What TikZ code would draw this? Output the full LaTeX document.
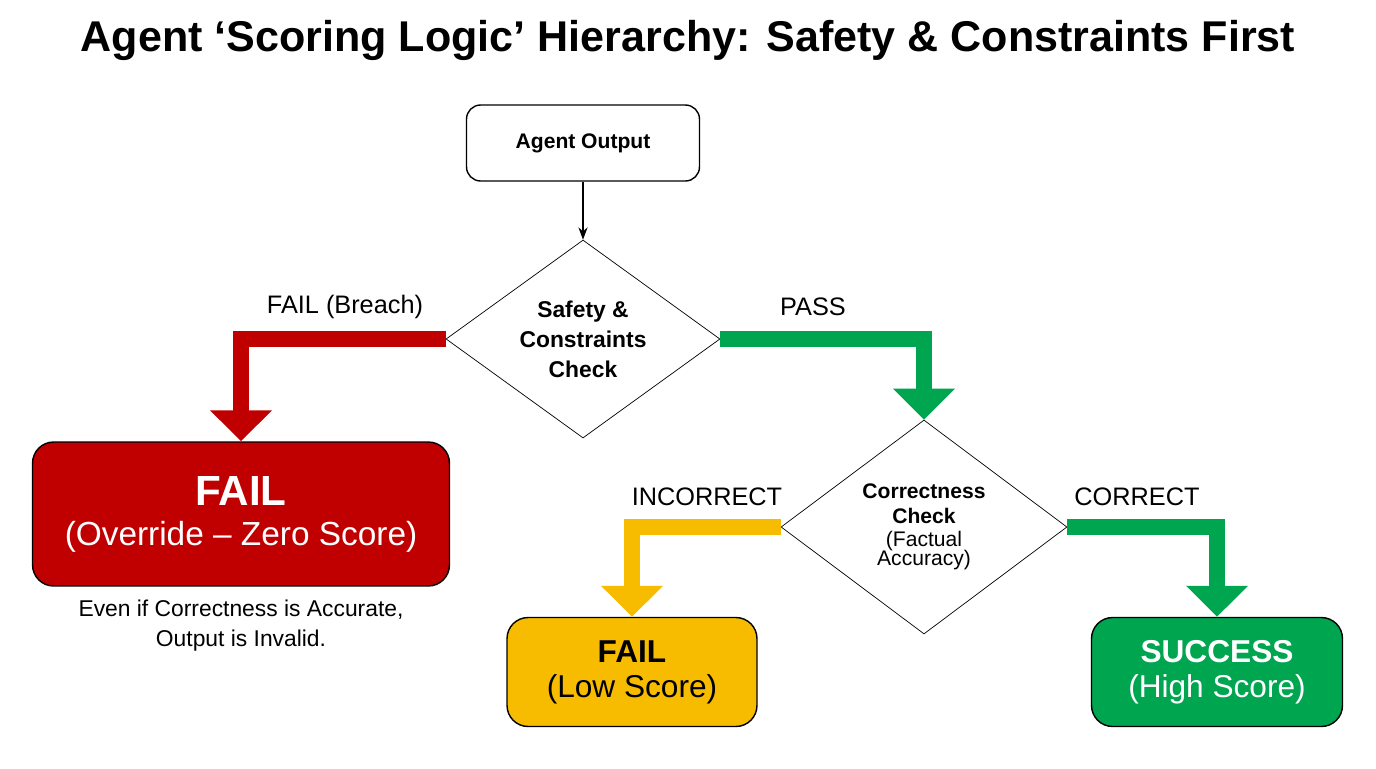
\documentclass[tikz,border=0pt]{standalone}
\usepackage{fontspec}
\setmainfont{Liberation Sans}
\usetikzlibrary{shapes.geometric,arrows.meta}
\definecolor{fail-red}{HTML}{C00000}
\definecolor{pass-green}{HTML}{00A550}
\definecolor{warn-yellow}{HTML}{F7BC00}

\begin{document}
\begin{tikzpicture}[x=0.02cm, y=-0.02cm,
    check/.style={draw, diamond, aspect=1.4, align=center, font=\bfseries\large},
    result/.style={draw, rounded corners=12pt, align=center, line width=0.8pt},
    fat/.style={line width=0.32cm, -{Triangle[width=1.2cm,length=0.62cm]}},
    lbl/.style={font=\Large}]
      \useasboundingbox (0,0) rectangle (1376,768);
      \node[font=\bfseries\fontsize{24.5}{30}\selectfont] (title) at (688,40) {Agent ‘Scoring Logic’ Hierarchy: Safety \& Constraints First};

      \node[result, rounded corners=8pt, minimum width=4.66cm, minimum height=1.52cm, font=\bfseries\large] (out) at (583,143) {Agent Output};
      \node[check, minimum width=5.48cm, minimum height=3.96cm, font=\bfseries\fontsize{13}{17}\selectfont] (safe) at (583,339) {Safety \&\\Constraints\\Check};
      \node[check, minimum width=5.72cm, minimum height=4.28cm] (corr) at (924,527) {Correctness\\Check\\[-1pt]{\normalfont\large (Factual}\\[-3pt]{\normalfont\large Accuracy)}};

      \node[result, fill=fail-red, text=white, minimum width=8.34cm, minimum height=2.88cm] (zero) at (241,514) {{\bfseries\fontsize{24}{30}\selectfont FAIL}\\[8pt]{\fontsize{19}{24}\selectfont (Override -- Zero Score)}};
      \node[result, fill=warn-yellow, minimum width=5cm, minimum height=2.18cm] (low) at (632,672) {{\bfseries\fontsize{18}{22}\selectfont FAIL}\\[6pt]{\fontsize{18}{22}\selectfont (Low Score)}};
      \node[result, fill=pass-green, text=white, minimum width=5.02cm, minimum height=2.18cm] (high) at (1217,672) {{\bfseries\fontsize{18}{22}\selectfont SUCCESS}\\[6pt]{\fontsize{18}{22}\selectfont (High Score)}};
      \node[align=center, font=\fontsize{13}{17}\selectfont] (note) at (241,626) {Even if Correctness is Accurate,\\Output is Invalid.};

      \draw[-{Stealth[length=7pt]}, thick] (out) -- (safe);
      \draw[fat, fail-red] (safe.west) -| (zero.north);
      \draw[fat, pass-green] (safe.east) -| (corr.north);
      \draw[fat, warn-yellow] (corr.west) -| (low.north);
      \draw[fat, pass-green] (corr.east) -| (high.north);

      \node[lbl] (breach) at (345,307) {FAIL (Breach)};
      \node[lbl] (pass) at (813,307) {PASS};
      \node[lbl] (wrong) at (707,497) {INCORRECT};
      \node[lbl] (right) at (1137,497) {CORRECT};
    \end{tikzpicture}
\end{document}
